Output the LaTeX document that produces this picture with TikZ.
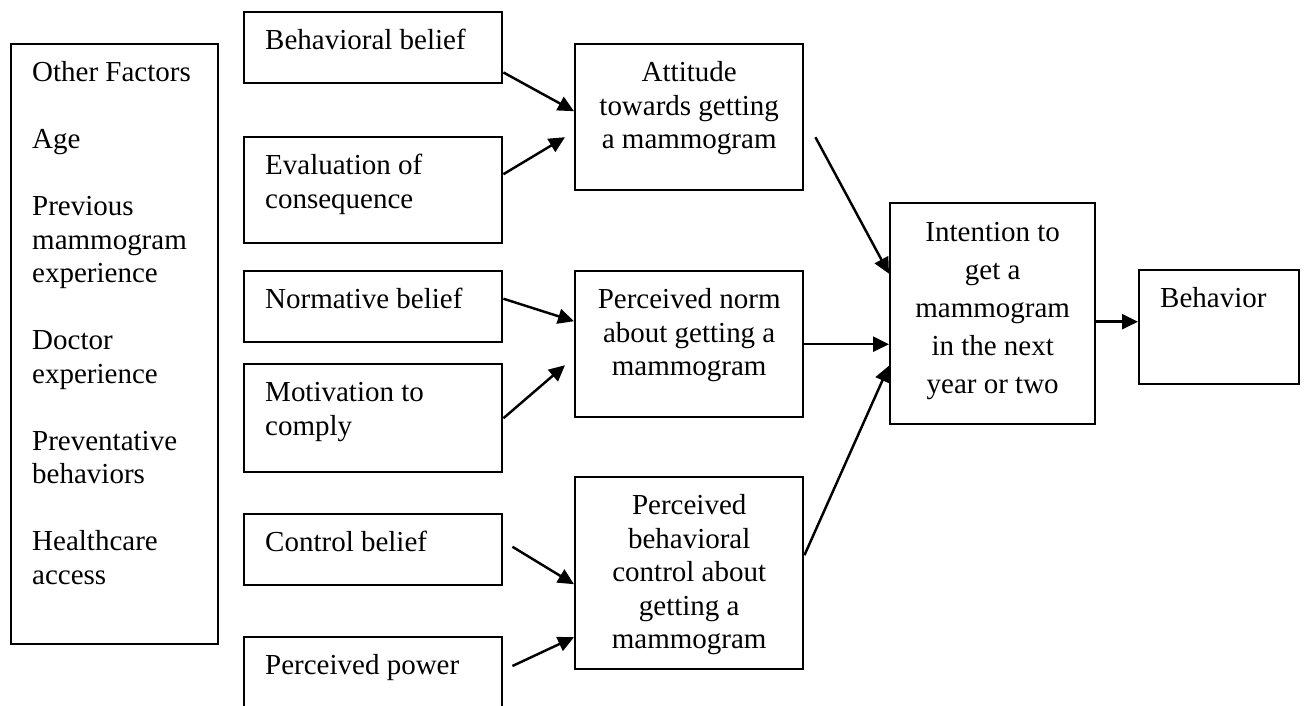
\documentclass[tikz,border=0pt]{standalone}
\usepackage{fontspec}
\setmainfont{Liberation Serif}
\usetikzlibrary{arrows.meta,calc}
\newcommand{\lefttext}[3]{\parbox[t][#2][t]{#1}{\raggedright\strut #3}}
\newcommand{\midtext}[3]{\parbox[t][#2][t]{#1}{\centering\strut #3}}

\begin{document}
\begin{tikzpicture}[x=0.02cm,y=-0.02cm]
	\tikzstyle{LeftBox} = [draw, line width=1.4pt, anchor=north west, inner xsep=0.42cm, inner ysep=0.28cm, font=\fontsize{16.5}{19.07}\selectfont]
	\tikzstyle{MidBox} = [LeftBox, inner xsep=0.1cm]
	\tikzstyle{Link} = [line width=1.4pt, -{Triangle[length=0.32cm,width=0.3cm]}]
	\useasboundingbox (0,0) rectangle (1308,706);
	\clip (0,0) rectangle (1308,706);
	\node (of) at (10,43) [LeftBox] {\lefttext{3.30cm}{11.44cm}{Other Factors\\[\baselineskip] Age\\[\baselineskip] Previous\\ mammogram\\ experience\\[\baselineskip] Doctor\\ experience\\[\baselineskip] Preventative\\ behaviors\\[\baselineskip] Healthcare\\ access}};
	\node (bb) at (243,11) [LeftBox] {\lefttext{4.32cm}{0.86cm}{Behavioral belief}};
	\node (ev) at (243,136) [LeftBox] {\lefttext{4.32cm}{1.56cm}{Evaluation of\\ consequence}};
	\node (nb) at (243,270) [LeftBox] {\lefttext{4.32cm}{0.86cm}{Normative belief}};
	\node (mc) at (243,363) [LeftBox] {\lefttext{4.32cm}{1.60cm}{Motivation to\\ comply}};
	\node (cb) at (243,513) [LeftBox] {\lefttext{4.32cm}{0.86cm}{Control belief}};
	\node (pp) at (243,636) [LeftBox] {\lefttext{4.32cm}{1.56cm}{Perceived power}};
	\node (att) at (574,43) [MidBox] {\midtext{4.36cm}{2.36cm}{Attitude\\ towards getting\\ a mammogram}};
	\node (pn) at (574,270) [MidBox] {\midtext{4.36cm}{2.36cm}{Perceived norm\\ about getting a\\ mammogram}};
	\node (pbc) at (574,476) [MidBox] {\midtext{4.36cm}{3.28cm}{Perceived\\ behavioral\\ control about\\ getting a\\ mammogram}};
	\node (int) at (889,202) [MidBox, inner ysep=0.23cm, font=\fontsize{16.5}{21.6}\selectfont] {\midtext{3.90cm}{3.96cm}{Intention to\\ get a\\ mammogram\\ in the next\\ year or two}};
	\node (beh) at (1138,269) [LeftBox] {\lefttext{2.36cm}{1.72cm}{Behavior}};
	\coordinate (ib) at ($(int.east)+(0,8)$);
	\draw [Link] ($(bb.south east)+(0,-12)$) to ($(att.west)+(0,-6)$);
	\draw [Link] ($(ev.east)+(0,-16)$) to ($(att.west)+(-9,20)$);
	\draw [Link] ($(nb.east)+(0,-8)$) to ($(pn.west)+(0,-23)$);
	\draw [Link] (mc.east) to ($(pn.west)+(-9,21)$);
	\draw [Link] ($(cb.east)+(9,-3)$) to ($(pbc.west)+(0,11)$);
	\draw [Link] ($(pp.north east)+(9,30)$) to ($(pbc.west)+(0,64)$);
	\draw [Link] ($(att.east)+(11,20)$) to ($(int.west)+(0,-40)$);
	\draw [Link] (pn.east) to (pn.east -| int.west);
	\draw [Link] ($(pbc.east)+(0,-18)$) to ($(int.west)+(0,52)$);
	\draw [Link] (ib) to (ib -| beh.west);
\end{tikzpicture}
\end{document}
